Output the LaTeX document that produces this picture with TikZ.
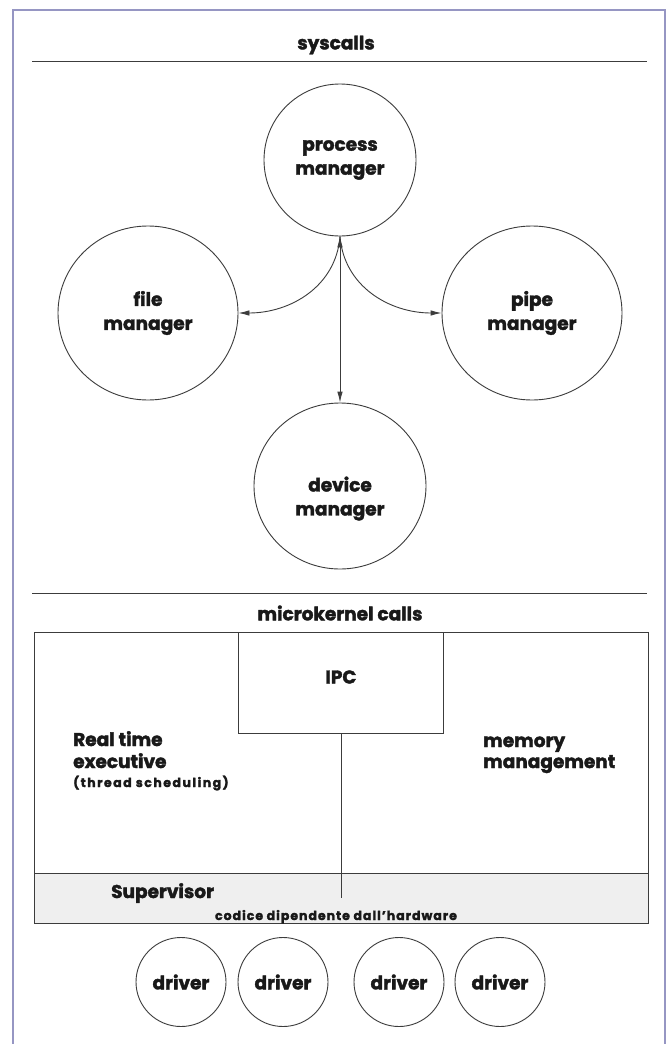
\documentclass[tikz,border=0pt]{standalone}
\usepackage{fontspec}
\setmainfont{Poppins}[BoldFeatures={FakeBold=2}]
\usetikzlibrary{arrows.meta,shapes.geometric}
\definecolor{framecol}{RGB}{150,150,195}
\definecolor{ink}{RGB}{60,60,60}
\definecolor{txt}{RGB}{25,25,25}
\definecolor{supfill}{RGB}{239,239,239}
\tikzset{
  lbl/.style={font=\bfseries\fontsize{18.5}{20}\selectfont, text=txt, inner sep=0pt},
  small/.style={font=\bfseries\fontsize{12.5}{14}\selectfont\addfontfeatures{LetterSpace=8}, text=txt, inner sep=0pt},
  mgr/.style={ellipse, draw=ink, line width=0.9pt, inner sep=0pt, align=center, text=txt,
    font=\bfseries\fontsize{18.5}{24}\selectfont},
  drv/.style={ellipse, draw=ink, line width=0.9pt, inner sep=0pt, text=txt,
    minimum width=90pt, minimum height=89pt, font=\bfseries\fontsize{18.5}{20}\selectfont},
  arr/.style={{Latex[length=11pt,width=5.5pt]}-{Latex[length=11pt,width=5.5pt]}, draw=ink, line width=0.9pt},
  arrone/.style={-{Latex[length=11pt,width=5.5pt]}, draw=ink, line width=0.9pt},
  rule/.style={draw=ink, line width=1pt},
  box/.style={draw=ink, line width=0.9pt}
}
\begin{document}
\begin{tikzpicture}[x=1pt,y=-1pt]
\useasboundingbox (0,0) rectangle (670,1044);
\fill[white] (0,0) rectangle (670,1044);
% frame
\draw[framecol, line width=1.5pt] (13,1044) -- (13,10) -- (665,10) -- (665,1044);
% syscalls
\node[lbl] (sys) at (336,45) {syscalls};
\draw[rule] (32,61) -- (647,61);
% managers
\node[mgr, minimum width=152pt, minimum height=152pt] (pm) at (340,160) {process\\manager};
\node[mgr, minimum width=180pt, minimum height=174pt] (fm) at (148,313) {file\\manager};
\node[mgr, minimum width=180pt, minimum height=174pt] (pp) at (532,313) {pipe\\manager};
\node[mgr, minimum width=172pt, minimum height=166pt] (dm) at (340,486) {\mbox{}\\[16pt]device\\manager};
\coordinate (hub) at (pm.south);
\draw[arr] (dm.north) -- (hub);
\draw[arrone] (hub) .. controls +(-4,50) and +(52,0) .. (fm.east);
\draw[arrone] (hub) .. controls +(4,50) and +(-52,0) .. (pp.west);
% microkernel
\draw[rule] (32,593) -- (647,593);
\node[lbl] (mk) at (340,613) {microkernel calls};
\fill[supfill] (34,873) rectangle (648,923);
\draw[box] (34,632) rectangle (648,923);
\draw[box] (34,873) -- (648,873);
\node[box, lbl, minimum width=205pt, minimum height=101pt, text depth=12pt, anchor=north west] (ipc) at (238,632) {IPC};
\coordinate (ipcend) at (ipc.south |- 0,898);
\draw[box] (ipc.south) -- (ipcend);
\node[lbl, anchor=base west] (rt1) at (73,746) {Real time};
\node[lbl, anchor=base west] (rt2) at (73,768) {executive};
\node[small, anchor=base west] (rt3) at (73,787) {\addfontfeatures{LetterSpace=12}(thread scheduling)};
\node[lbl, anchor=base west] (mm1) at (483,747) {memory};
\node[lbl, anchor=base west] (mm2) at (483,768) {management};
\node[lbl, anchor=base west] (sup) at (111,898) {Supervisor};
\node[small, anchor=base] (cod) at (336,920) {codice dipendente dall'hardware};
% drivers
\node[drv] (d1) at (181,982) {driver};
\node[drv] (d2) at (283,982) {driver};
\node[drv] (d3) at (399,982) {driver};
\node[drv] (d4) at (500,982) {driver};
\end{tikzpicture}
\end{document}
